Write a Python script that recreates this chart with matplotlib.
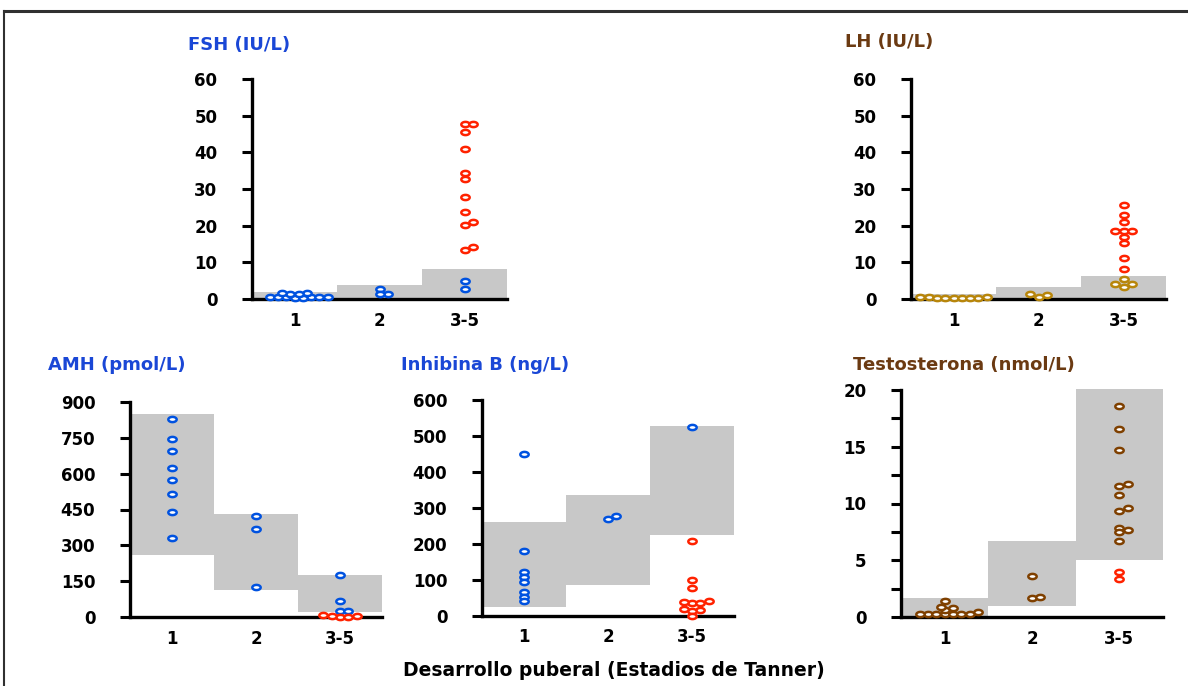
import numpy as np
import matplotlib.pyplot as plt
from matplotlib.path import Path
from matplotlib.lines import Line2D

plt.rcParams['font.family'] = 'DejaVu Sans'
plt.rcParams['font.weight'] = 'bold'

W, H = 1188, 686
cats = ['1', '2', '3-5']

# FSH (IU/L)
fsh_1 = [0.5, 0.4, 0.6, 0.5, 0.4, 0.5, 0.6, 0.5, 1.5, 1.6, 1.4, 1.6]
fsh_2 = [1.5, 2.7, 1.3]
fsh_3 = [4.9, 2.6]
fsh_3_high = [47.8, 47.8, 45.6, 40.9, 34.4, 32.8, 27.9, 23.7, 20.9, 20.3, 14.2, 13.5]
fsh_lo = [0, 0, 0]
fsh_hi = [2.0, 3.9, 8.3]

# LH (IU/L)
lh_1 = [0.5, 0.2, 0.5, 0.3, 0.2, 0.4, 0.2, 0.5, 0.2]
lh_2 = [1.3, 0.5, 1.1]
lh_3 = [5.5, 4.0, 3.2, 4.0]
lh_3_high = [25.6, 23.0, 21.0, 18.6, 18.6, 18.6, 16.9, 15.2, 11.3, 8.3]
lh_lo = [0, 0, 0]
lh_hi = [1.45, 3.4, 6.35]

# AMH (pmol/L)
amh_1 = [830, 744, 695, 622, 574, 515, 438, 330]
amh_2 = [423, 370, 124]
amh_3 = [174, 67, 25, 25]
amh_3_low = [1, 4, 10, 2, 3]
amh_lo = [261, 114, 19.5]
amh_hi = [850, 431, 177]

# Inhibina B (ng/L)
inh_1 = [449, 181, 123, 108, 94, 67, 54, 42]
inh_2 = [270, 279]
inh_3 = [526]
inh_3_low = [207, 99, 77, 36, 40, 42, 36, 17, 15, 19, 0]
inh_lo = [26, 87, 225]
inh_hi = [260, 336, 527]

# Testosterona (nmol/L)
tes_1 = [0.29, 0.23, 0.26, 0.59, 0.29, 1.44, 0.88, 0.41, 0.79, 0.26, 0.26, 0.29]
tes_2 = [3.64, 1.64, 1.79]
tes_3 = [18.56, 16.54, 14.69, 11.76, 11.52, 10.79, 9.56, 9.35, 7.86, 7.65, 7.48, 6.69]
tes_3_low = [3.93, 3.34]
tes_lo = [0, 1.0, 5.04]
tes_hi = [1.67, 6.69, 20.06]

blue = '#0052E0'
red = '#FF2200'
gold = '#B8860B'
brown = '#7F4000'
title_blue = '#1A47D6'
title_brown = '#6B3A12'

# elliptical open marker (the original figure is stretched sideways)
t = np.linspace(0, 2 * np.pi, 60)
ell = Path(np.column_stack([1.6 * np.cos(t), np.sin(t)]), closed=True)


def swarm(groups, ppx, ppy, w=8.3, h=3.8):
    pts = sorted((v, gi, i) for gi, g in enumerate(groups) for i, v in enumerate(g))
    out = [np.zeros(len(g)) for g in groups]
    placed = []
    for v, gi, i in pts:
        y = v * ppy
        for k in range(60):
            dx = ((k + 1) // 2) * (w / 2) * (1 if k % 2 else -1)
            if all((dx - px) ** 2 / w ** 2 + (y - py) ** 2 / h ** 2 >= 0.999 for px, py in placed):
                break
        placed.append((dx, y))
        out[gi][i] = dx / ppx
    return out


def panel(box, ymax, step, lo, hi, series, title, tcolor, tpos, minor=None):
    l, tp, r, b = box
    ax = fig.add_axes([l / W, 1 - b / H, (r - l) / W, (b - tp) / H])
    ax.bar(range(3), np.array(hi) - np.array(lo), bottom=lo, width=1.0,
           color='#C8C8C8', zorder=0, clip_on=False)
    ppx = (r - l) / 3
    ppy = (b - tp) / ymax
    for c in range(3):
        grp = [s for s in series if s[0] == c]
        offs = swarm([s[1] for s in grp], ppx, ppy)
        for (ci, vals, col), dx in zip(grp, offs):
            ax.plot(c + dx, vals, ls='none', marker=ell, ms=6, mew=1.8,
                    mec=col, mfc='white', zorder=3, clip_on=False)
    ax.set_xlim(-0.5, 2.5)
    ax.set_ylim(0, ymax)
    ax.set_xticks(range(3))
    ax.set_xticklabels(cats, fontsize=12, fontweight='bold')
    ax.set_yticks(np.arange(0, ymax + step / 2, step))
    ax.set_yticklabels([f'{v:g}' for v in np.arange(0, ymax + step / 2, step)],
                       fontsize=12, fontweight='bold')
    if minor is not None:
        ax.set_yticks(minor, minor=True)
    ax.tick_params(axis='x', length=0, pad=9)
    ax.tick_params(axis='y', which='both', direction='out', length=7, width=2.2, pad=18)
    for s in ['top', 'right']:
        ax.spines[s].set_visible(False)
    for s in ['left', 'bottom']:
        ax.spines[s].set_linewidth(2.4)
    ax.patch.set_alpha(0)
    fig.text(tpos[0] / W, 1 - tpos[1] / H, title, color=tcolor, fontsize=13,
             fontweight='bold', ha='left', va='center')
    return ax


fig = plt.figure(figsize=(W / 100, H / 100), dpi=100)

panel((252, 79, 507, 299), 60, 10, fsh_lo, fsh_hi,
      [(0, fsh_1, blue), (1, fsh_2, blue), (2, fsh_3, blue), (2, fsh_3_high, red)],
      'FSH (IU/L)', title_blue, (188, 45))
panel((911, 79, 1166, 299), 60, 10, lh_lo, lh_hi,
      [(0, lh_1, gold), (1, lh_2, gold), (2, lh_3, gold), (2, lh_3_high, red)],
      'LH (IU/L)', title_brown, (845, 42))
panel((130, 402, 382, 617), 900, 150, amh_lo, amh_hi,
      [(0, amh_1, blue), (1, amh_2, blue), (2, amh_3, blue), (2, amh_3_low, red)],
      'AMH (pmol/L)', title_blue, (48, 365))
panel((482, 400, 734, 616), 600, 100, inh_lo, inh_hi,
      [(0, inh_1, blue), (1, inh_2, blue), (2, inh_3, blue), (2, inh_3_low, red)],
      'Inhibina B (ng/L)', title_blue, (401, 365))
panel((901, 390, 1163, 617), 20, 5, tes_lo, tes_hi,
      [(0, tes_1, brown), (1, tes_2, brown), (2, tes_3, brown), (2, tes_3_low, red)],
      'Testosterona (nmol/L)', title_brown, (853, 365), minor=np.arange(2.5, 20, 5))

fig.text(614 / W, 1 - 670 / H, 'Desarrollo puberal (Estadios de Tanner)',
         fontsize=13.5, fontweight='bold', ha='center', va='center', color='black')

# outer frame (top and left edges visible in the original)
fig.add_artist(Line2D([4 / W, 1], [1 - 11 / H] * 2, transform=fig.transFigure,
                      color='#303030', lw=2.2))
fig.add_artist(Line2D([4 / W] * 2, [0, 1 - 11 / H], transform=fig.transFigure,
                      color='#303030', lw=1.5))

fig.savefig('out.png', dpi=100)
